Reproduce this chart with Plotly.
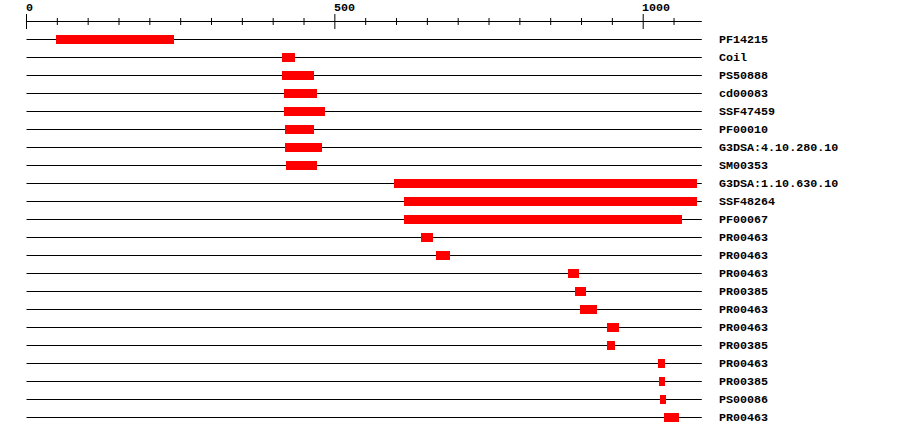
import plotly.graph_objects as go

# protein length and domain hits (residue coordinates)
seq_length = 1095
labels = ["PF14215", "Coil", "PS50888", "cd00083", "SSF47459", "PF00010",
          "G3DSA:4.10.280.10", "SM00353", "G3DSA:1.10.630.10", "SSF48264",
          "PF00067", "PR00463", "PR00463", "PR00463", "PR00385", "PR00463",
          "PR00463", "PR00385", "PR00463", "PR00385", "PS00086", "PR00463"]
starts = [48, 414, 414, 418, 418, 419, 419, 421, 596, 612, 612, 640, 664,
          878, 889, 898, 941, 941, 1024, 1026, 1027, 1034]
ends = [239, 435, 466, 471, 484, 466, 479, 471, 1087, 1087, 1063, 659, 687,
        896, 907, 925, 961, 954, 1035, 1035, 1037, 1058]

major_ticks = [0, 500, 1000]
minor_ticks = [50, 100, 150, 200, 250, 300, 350, 400, 450, 550, 600, 650,
               700, 750, 800, 850, 900, 950, 1050]

W, H = 900, 436
x0_px, px_per_res = 26.5, 0.6167
row0_px, row_px = 39.5, 18.0


def ypx(p):
    # pixel height -> row units
    return (p - row0_px) / row_px


def xpx(p):
    return (p - x0_px) / px_per_res


rows = list(range(len(labels)))
font = dict(family="Liberation Mono, DejaVu Sans Mono, monospace", size=11.7, color="black", weight="bold")

fig = go.Figure()

# backbone line per row, kept under the bars
for r in rows:
    fig.add_shape(type="line", x0=0, x1=seq_length, y0=r, y1=r, xref="x", yref="y",
                  line=dict(color="black", width=1), layer="below")

# domain bars
fig.add_trace(go.Bar(y=rows, base=starts, x=[e - s for s, e in zip(starts, ends)],
                     orientation="h", width=0.5, marker=dict(color="#ff0000", line=dict(width=0)),
                     showlegend=False, hovertext=labels))

# ruler on top
axis_y = ypx(21.5)
tx, ty = [0, seq_length, None], [axis_y, axis_y, None]
for t in major_ticks:
    tx += [t, t, None]
    ty += [ypx(14), ypx(29), None]
for t in minor_ticks:
    tx += [t, t, None]
    ty += [ypx(18), ypx(25), None]
fig.add_trace(go.Scatter(x=tx, y=ty, mode="lines", line=dict(color="black", width=1),
                         hoverinfo="skip", showlegend=False))

for t in major_ticks:
    fig.add_annotation(x=t, y=ypx(8), text=str(t), showarrow=False, xanchor="left",
                       yanchor="middle", xshift=-3, font=font)

for r, name in zip(rows, labels):
    fig.add_annotation(x=xpx(717), y=r, text=name, showarrow=False,
                       xanchor="left", yanchor="middle", font=font)

fig.update_layout(
    width=W, height=H,
    margin=dict(l=0, r=0, t=0, b=0),
    paper_bgcolor="white", plot_bgcolor="white",
    bargap=0,
    xaxis=dict(range=[xpx(0), xpx(W)], visible=False, fixedrange=True),
    yaxis=dict(range=[ypx(H), ypx(0)], visible=False, fixedrange=True),
)

# drop the default 8px page margin so the figure sits at the window corner
fig.write_html("out.html", config={"displayModeBar": False},
               post_script="document.body.style.margin='0';")
